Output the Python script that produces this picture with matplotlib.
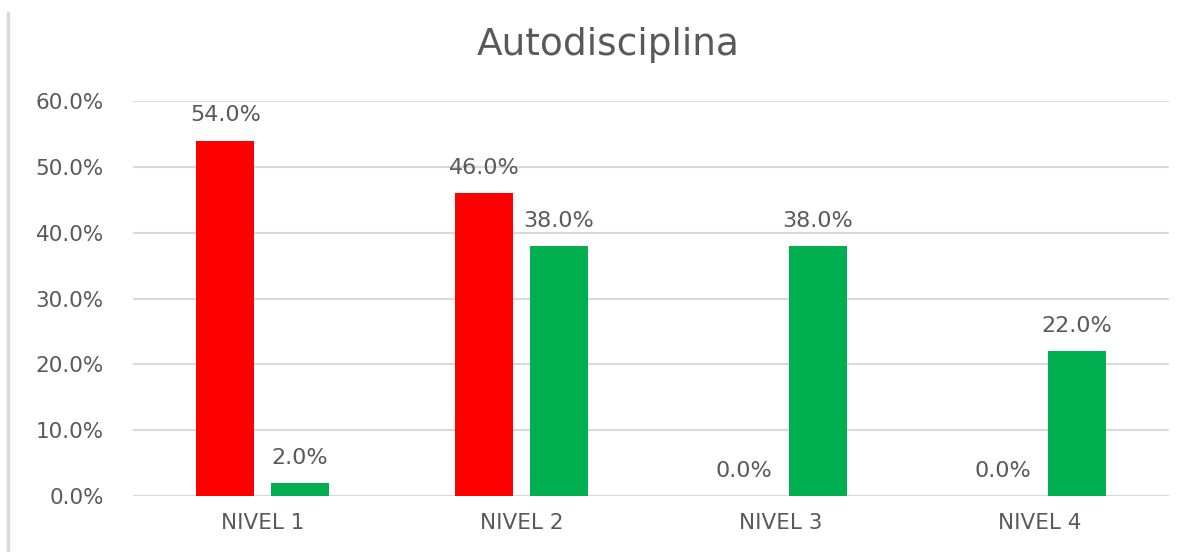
import matplotlib
matplotlib.use("Agg")
import matplotlib.pyplot as plt
from matplotlib.lines import Line2D
import numpy as np

categories = ["NIVEL 1", "NIVEL 2", "NIVEL 3", "NIVEL 4"]
red_vals = [0.54, 0.46, 0.0, 0.0]
green_vals = [0.02, 0.38, 0.38, 0.22]
yticks = [0.0, 0.1, 0.2, 0.3, 0.4, 0.5, 0.6]

RED = "#FF0000"
GREEN = "#00B050"
INK = "#595959"
GRID = "#D9D9D9"

plt.rcParams["font.family"] = ["DejaVu Sans"]

fig = plt.figure(figsize=(11.92, 5.52), dpi=100)
ax = fig.add_axes([0.1116, 0.1014, 0.8691, 0.7156])

x = np.arange(len(categories))
w = 0.224
off = 0.143
ax.bar(x - off, red_vals, w, color=RED, zorder=3)
ax.bar(x + off, green_vals, w, color=GREEN, zorder=3)

for xs, vals in ((x - off, red_vals), (x + off, green_vals)):
    for xi, v in zip(xs, vals):
        ax.annotate(f"{v*100:.1f}%", (xi, v), xytext=(0, 11), textcoords="offset points",
                    ha="center", va="bottom", fontsize=16, color=INK)

ax.set_xlim(-0.5, len(categories) - 0.5)
ax.set_ylim(0, 0.6)
ax.set_yticks(yticks)
ax.set_yticklabels([f"{t*100:.1f}%" for t in yticks], fontsize=15.5, color=INK)
ax.set_xticks(x)
ax.set_xticklabels(categories, fontsize=15.5, color=INK)
ax.tick_params(axis="x", length=0, pad=12)
ax.tick_params(axis="y", length=0, pad=21)
ax.grid(True, axis="y", color=GRID, lw=1.5, zorder=0)
for sp in ax.spines.values():
    sp.set_visible(False)

fig.text(0.51, 0.918, "Autodisciplina", ha="center", va="center", fontsize=27, color=INK)
fig.add_artist(Line2D([0.0067, 0.0067], [0.0, 0.977], transform=fig.transFigure,
                      color=GRID, lw=2.5))

fig.savefig("out.png", dpi=100)
